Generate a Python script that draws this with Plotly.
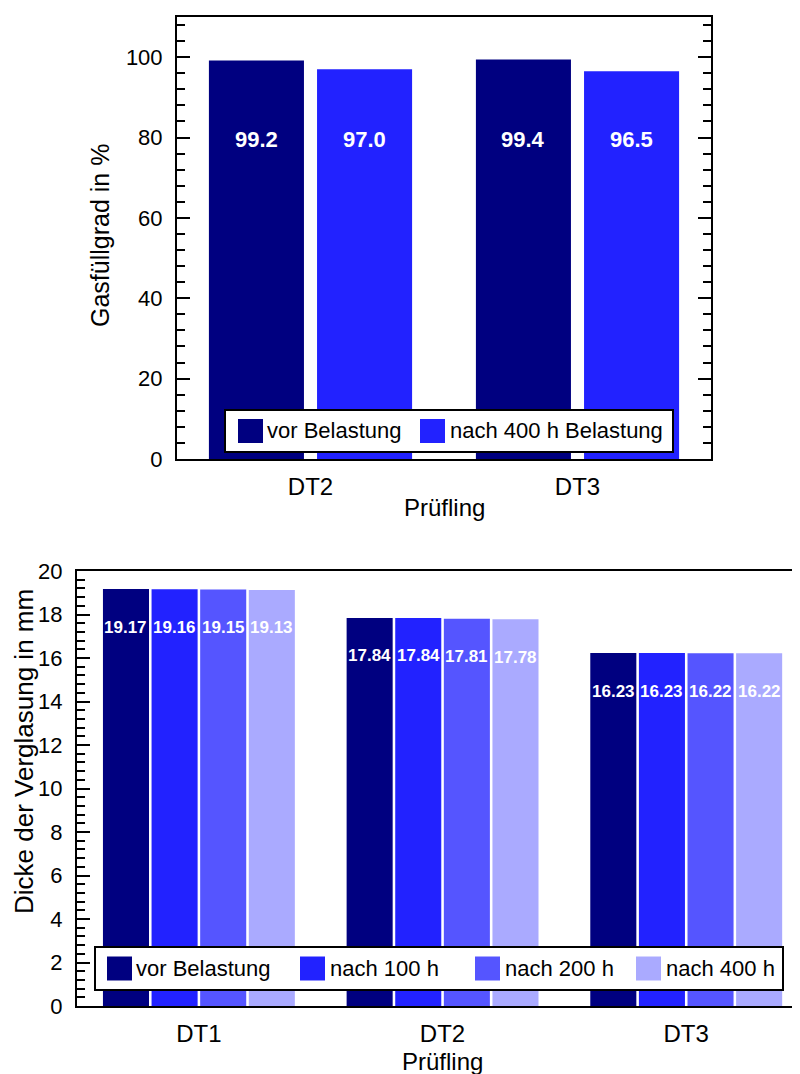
import plotly.graph_objects as go

# ---------------- data ----------------
cat_top = ["DT2", "DT3"]
gas_vor = [99.2, 99.4]
gas_nach = [97.0, 96.5]
names_top = ["vor Belastung", "nach 400 h Belastung"]
colors_top = ["#000080", "#2222FF"]

cat_bot = ["DT1", "DT2", "DT3"]
d_vor = [19.17, 17.84, 16.23]
d_100 = [19.16, 17.84, 16.23]
d_200 = [19.15, 17.81, 16.22]
d_400 = [19.13, 17.78, 16.22]
names_bot = ["vor Belastung", "nach 100 h", "nach 200 h", "nach 400 h"]
colors_bot = ["#000080", "#2222FF", "#5555FF", "#AAAAFF"]

# ---------------- geometry helpers (screen px -> paper) ----------------
W, H = 800, 1074
OFF = 8  # page body margin
FONT = "Liberation Sans, Arial, sans-serif"


def px(x):
    return (x - OFF) / W


def py(y):
    return 1 - (y - OFF) / H


fig = go.Figure()

# ---------------- top chart ----------------
top_series = [gas_vor, gas_nach]
w_top, g_top = 0.356, 0.049
offs_top = [-g_top / 2 - w_top, g_top / 2]
xs_top = list(range(len(cat_top)))
for vals, name, col, off in zip(top_series, names_top, colors_top, offs_top):
    fig.add_trace(go.Bar(x=xs_top, y=vals, name=name, marker=dict(color=col, line=dict(width=0)),
                         width=w_top, offset=off, xaxis="x", yaxis="y", showlegend=False))
    for xi, v in zip(xs_top, vals):
        fig.add_annotation(x=xi + off + w_top / 2, y=79.5, xref="x", yref="y", text=f"{v:.1f}",
                           showarrow=False, font=dict(family=FONT, size=22, color="white", weight="bold"))

# ---------------- bottom chart ----------------
bot_series = [d_vor, d_100, d_200, d_400]
w_bot, step_bot = 0.189, 0.1995
start_bot = -0.3935
xs_bot = list(range(len(cat_bot)))
for i, (vals, name, col) in enumerate(zip(bot_series, names_bot, colors_bot)):
    off = start_bot + i * step_bot
    fig.add_trace(go.Bar(x=xs_bot, y=vals, name=name, marker=dict(color=col, line=dict(width=0)),
                         width=w_bot, offset=off, xaxis="x2", yaxis="y2", showlegend=False))
    for xi, v in zip(xs_bot, vals):
        fig.add_annotation(x=xi + off + w_bot / 2, y=v, xref="x2", yref="y2", text=f"{v:.2f}",
                           yshift=-38, showarrow=False,
                           font=dict(family=FONT, size=17, color="white", weight="bold"))

line_common = dict(showgrid=False, zeroline=False, showline=True, linecolor="black", linewidth=2)
ytickfont = dict(family=FONT, size=22, color="black")
xtickfont = dict(family=FONT, size=24, color="black")

fig.update_layout(
    width=W, height=H, margin=dict(l=0, r=0, t=0, b=0, autoexpand=False),
    paper_bgcolor="white", plot_bgcolor="white",
    barmode="overlay", showlegend=False,
    font=dict(family=FONT, color="black"),
    xaxis=dict(domain=[px(177), px(711)], anchor="y", range=[-0.5, 1.5],
               tickvals=xs_top, ticktext=cat_top, ticks="", mirror=True,
               tickfont=xtickfont, ticklabelstandoff=5, **line_common),
    yaxis=dict(domain=[py(459), py(17)], anchor="x", range=[0, 110], dtick=20,
               ticks="inside", ticklen=13, tickwidth=2, tickcolor="black", mirror="ticks",
               minor=dict(dtick=4, ticks="inside", ticklen=8, tickwidth=2, tickcolor="black", showgrid=False),
               tickfont=ytickfont, ticklabelstandoff=8, **line_common),
    xaxis2=dict(domain=[px(77), px(808)], anchor="y2", range=[-0.5, 2.5],
                tickvals=xs_bot, ticktext=cat_bot, ticks="", mirror=True,
                tickfont=xtickfont, ticklabelstandoff=5, **line_common),
    yaxis2=dict(domain=[py(1006), py(571)], anchor="x2", range=[0, 20], dtick=2,
                ticks="inside", ticklen=13, tickwidth=2, tickcolor="black", mirror="ticks",
                minor=dict(dtick=0.4, ticks="inside", ticklen=8, tickwidth=2, tickcolor="black", showgrid=False),
                tickfont=ytickfont, ticklabelstandoff=8, **line_common),
)

# axis titles
fig.add_annotation(text="Gasfüllgrad in %", x=px(100), y=py(236), xref="paper", yref="paper",
                   textangle=-90, showarrow=False, xanchor="center", yanchor="middle",
                   font=dict(family=FONT, size=25, color="black"))
fig.add_annotation(text="Prüfling", x=px(444), y=py(507), xref="paper", yref="paper",
                   showarrow=False, xanchor="center", yanchor="middle",
                   font=dict(family=FONT, size=24, color="black"))
fig.add_annotation(text="Dicke der Verglasung in mm", x=px(24), y=py(752), xref="paper", yref="paper",
                   textangle=-90, showarrow=False, xanchor="center", yanchor="middle",
                   font=dict(family=FONT, size=26, color="black"))
fig.add_annotation(text="Prüfling", x=px(443), y=py(1061), xref="paper", yref="paper",
                   showarrow=False, xanchor="center", yanchor="middle",
                   font=dict(family=FONT, size=24, color="black"))


# manual legends
def add_legend(box, items):
    x0, x1, y0, y1 = box
    fig.add_shape(type="rect", xref="paper", yref="paper", x0=px(x0), x1=px(x1), y0=py(y1), y1=py(y0),
                  line=dict(color="black", width=2), fillcolor="white", layer="above")
    yc = (y0 + y1) / 2
    for (sx, tx), name, col in items:
        fig.add_shape(type="rect", xref="paper", yref="paper", x0=px(sx), x1=px(sx + 25),
                      y0=py(yc + 12), y1=py(yc - 12), line=dict(width=0), fillcolor=col, layer="above")
        fig.add_annotation(text=name, x=px(tx), y=py(yc), xref="paper", yref="paper", showarrow=False,
                           xanchor="left", yanchor="middle", font=dict(family=FONT, size=22, color="black"))


add_legend((225, 673, 410, 452), [((238, 265), names_top[0], colors_top[0]),
                                  ((420, 448), names_top[1], colors_top[1])])
add_legend((95, 783, 947, 990), [((107, 134), names_bot[0], colors_bot[0]),
                                 ((300, 328), names_bot[1], colors_bot[1]),
                                 ((475, 503), names_bot[2], colors_bot[2]),
                                 ((636, 664), names_bot[3], colors_bot[3])])

fig.write_html("out.html")
